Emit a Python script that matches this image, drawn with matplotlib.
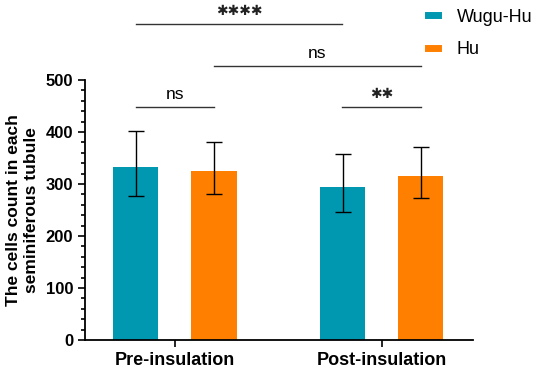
import numpy as np
import matplotlib.pyplot as plt
from matplotlib.ticker import MultipleLocator
from matplotlib.lines import Line2D

plt.rcParams['font.family'] = ['Liberation Sans', 'DejaVu Sans']

groups = ['Pre-insulation', 'Post-insulation']
series = ['Wugu-Hu', 'Hu']
colors = ['#0098B0', '#FF8000']
means = [[333, 295], [324, 316]]
upper = [[401, 357], [381, 372]]
lower = [[277, 246], [281, 273]]

# significance brackets: (x1, x2, y, label)
sig_pairs = [(-0.19, 0.19, 448, 'ns'), (0.81, 1.19, 448, '✱✱'),
             (0.19, 1.19, 527, 'ns'), (-0.19, 0.81, 607, '✱✱✱✱')]

fig = plt.figure(figsize=(5.5, 3.77), dpi=100)
ax = fig.add_axes([0.1545, 0.098, 0.7055, 0.69])

x = np.arange(len(groups))
w = 0.218
offs = [-0.189, 0.189]
for i, name in enumerate(series):
    m = np.array(means[i])
    yerr = [m - np.array(lower[i]), np.array(upper[i]) - m]
    ax.bar(x + offs[i], m, w, color=colors[i], label=name, zorder=2)
    ax.errorbar(x + offs[i], m, yerr=yerr, fmt='none', ecolor='black',
                elinewidth=1, capsize=6, capthick=1, zorder=3)

for x1, x2, y, lab in sig_pairs:
    ax.plot([x1, x2], [y, y], color='#333333', lw=1, clip_on=False)
    if '✱' in lab:
        ax.text((x1 + x2) / 2, y + 12, lab, ha='center', va='bottom',
                fontsize=10, family='DejaVu Sans', color='#222222', clip_on=False)
    else:
        ax.text((x1 + x2) / 2, y + 10, lab, ha='center', va='bottom',
                fontsize=12.5, clip_on=False)

ax.set_xlim(-0.435, 1.442)
ax.set_ylim(0, 500)
ax.set_xticks(x)
ax.set_xticklabels(groups, fontsize=13, fontweight='bold')
ax.yaxis.set_major_locator(MultipleLocator(100))
ax.yaxis.set_minor_locator(MultipleLocator(20))
for lbl in ax.get_yticklabels():
    lbl.set_fontweight('bold')
ax.tick_params(axis='y', labelsize=12, width=1.2, length=5)
ax.tick_params(axis='y', which='minor', width=1.2, length=3)
ax.tick_params(axis='x', width=1.2, length=5)
ax.set_ylabel('The cells count in each\nseminiferous tubule', fontsize=12.5,
              fontweight='bold', labelpad=5)
for s in ['top', 'right']:
    ax.spines[s].set_visible(False)
for s in ['left', 'bottom']:
    ax.spines[s].set_linewidth(1.3)

handles = [Line2D([0], [0], color=c, lw=5) for c in colors]
fig.legend(handles, series, loc='upper left', bbox_to_anchor=(0.748, 1.02),
           frameon=False, fontsize=13, handlelength=0.6, handletextpad=1.0,
           labelspacing=0.85)

fig.savefig('out.png', dpi=100)
